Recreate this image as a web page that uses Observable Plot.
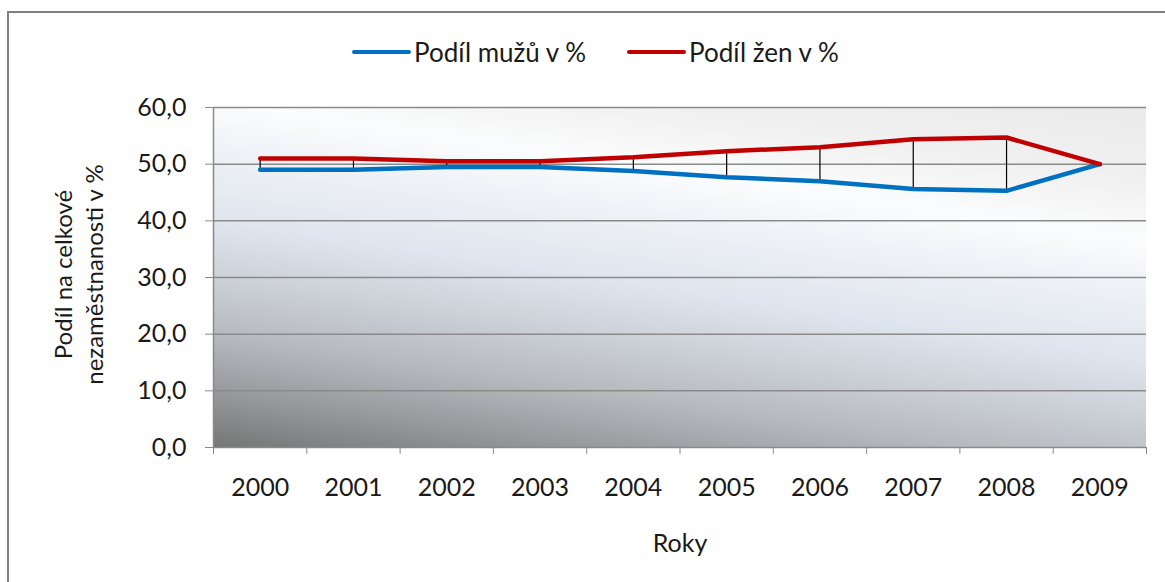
<!DOCTYPE html>
<html>
<head>
<meta charset="utf-8">
<script src="https://cdn.jsdelivr.net/npm/d3@7"></script>
<script src="https://cdn.jsdelivr.net/npm/@observablehq/plot@0.6"></script>
<style>
  html, body { margin: 0; padding: 0; background: #fff; overflow: hidden; width: 1165px; height: 582px; }
  body { position: relative; font-family: Lato, "Open Sans", sans-serif; }
  #border { position: absolute; left: 7px; top: 11px; width: 1200px; height: 620px; border: 2px solid #808080; box-sizing: border-box; }
  #legend { position: absolute; top: 36px; left: 0; width: 1165px; height: 32px; font-size: 26px; color: #1a1a1a; }
  .item { position: absolute; top: 0; display: flex; align-items: center; height: 32px; white-space: nowrap; }
  .sw { display: inline-block; width: 59px; height: 4px; border-radius: 2px; margin-right: 3px; }
  #chart { position: absolute; left: 0; top: 80px; }
</style>
</head>
<body>
<div id="border"></div>
<div id="legend"></div>
<div id="chart"></div>
<script>
const years = [2000, 2001, 2002, 2003, 2004, 2005, 2006, 2007, 2008, 2009];
const men   = [49.0, 49.0, 49.5, 49.5, 48.8, 47.7, 47.0, 45.6, 45.3, 50.0];
const women = [51.0, 51.0, 50.5, 50.5, 51.2, 52.3, 53.0, 54.4, 54.7, 50.0];
const yTicks = [0, 10, 20, 30, 40, 50, 60];
const xBoundaries = [1999.5, 2000.5, 2001.5, 2002.5, 2003.5, 2004.5, 2005.5, 2006.5, 2007.5, 2008.5, 2009.5];
const seriesNames = ["Podíl mužů v %", "Podíl žen v %"];
const seriesColors = ["#0070c0", "#c00000"];
const yTitle = "Podíl na celkové\nnezaměstnanosti v %";
const xTitle = "Roky";

const rows = years.map((y, i) => ({year: y, men: men[i], women: women[i]}));
const long = [];
years.forEach((y, i) => {
  long.push({year: y, value: men[i], series: seriesNames[0]});
  long.push({year: y, value: women[i], series: seriesNames[1]});
});

// legend
const legend = document.getElementById("legend");
const legendX = [352, 627];
seriesNames.forEach((n, i) => {
  const d = document.createElement("div");
  d.className = "item";
  d.style.left = legendX[i] + "px";
  d.innerHTML = `<span class="sw" style="background:${seriesColors[i]}"></span><span>${n}</span>`;
  legend.appendChild(d);
});

const fmt = d => d.toFixed(1).replace(".", ",");

function background(index, scales, values, dims) {
  const {width, height, marginLeft, marginRight, marginTop, marginBottom} = dims;
  const x0 = marginLeft, x1 = width - marginRight, y0 = marginTop, y1 = height - marginBottom;
  const g = d3.create("svg:g");
  const defs = g.append("defs");
  const L = 474, ux = 0.148, uy = -0.989;
  const grad = defs.append("linearGradient")
    .attr("id", "bgGrad").attr("gradientUnits", "userSpaceOnUse")
    .attr("x1", x0).attr("y1", y1)
    .attr("x2", x0 + L * ux).attr("y2", y1 + L * uy);
  [[0, "#767676"], [0.12, "#989a9d"], [0.24, "#b7bbc0"], [0.36, "#cdd2d9"], [0.47, "#dfe5ee"],
   [0.6, "#ecf0f5"], [0.72, "#fbfcfd"], [0.78, "#f6f6f6"], [0.85, "#f0f0f0"], [1, "#ebebeb"]]
    .forEach(([o, c]) => grad.append("stop").attr("offset", o).attr("stop-color", c));
  g.append("rect").attr("x", x0).attr("y", y0).attr("width", x1 - x0).attr("height", y1 - y0)
    .attr("fill", "url(#bgGrad)");
  return g.node();
}

const chart = Plot.plot({
  width: 1165,
  height: 502,
  marginLeft: 213,
  marginRight: 19,
  marginTop: 27,
  marginBottom: 135,
  style: {fontFamily: "Lato, 'Open Sans', sans-serif", fontSize: "25px", color: "#1a1a1a", background: "transparent"},
  x: {type: "linear", domain: [1999.5, 2009.5]},
  y: {domain: [0, 60]},
  color: {domain: seriesNames, range: seriesColors},
  marks: [
    background,
    Plot.ruleY(yTicks, {y: d => d, stroke: "#8a8a8a", strokeWidth: 1.5}),
    Plot.ruleX([1999.5], {stroke: "#8a8a8a", strokeWidth: 1.5}),
    Plot.axisY({ticks: yTicks, tickFormat: fmt, tickSize: 8, tickPadding: 19, stroke: "#8a8a8a", fontSize: 25, label: null}),
    Plot.axisX({ticks: xBoundaries, tickFormat: () => "", tickSize: 7, stroke: "#8a8a8a", label: null}),
    Plot.axisX({ticks: years, tickFormat: d => String(d), tickSize: 0, tickPadding: 31, fontSize: 25, label: null}),
    Plot.ruleX(rows, {x: "year", y1: "men", y2: "women", stroke: "#000", strokeWidth: 1.2}),
    Plot.line(long, {x: "year", y: "value", z: "series", stroke: "series", strokeWidth: 4.5, strokeLinejoin: "round", strokeLinecap: "round"}),
    Plot.text([yTitle], {frameAnchor: "left", textAnchor: "middle", dx: -136, dy: -3, rotate: -90, fontSize: 24, lineHeight: 1.3, fill: "#1a1a1a"}),
    Plot.text([xTitle], {frameAnchor: "bottom", dy: 104, fontSize: 25, fill: "#1a1a1a"})
  ]
});
document.getElementById("chart").appendChild(chart);
</script>
</body>
</html>
